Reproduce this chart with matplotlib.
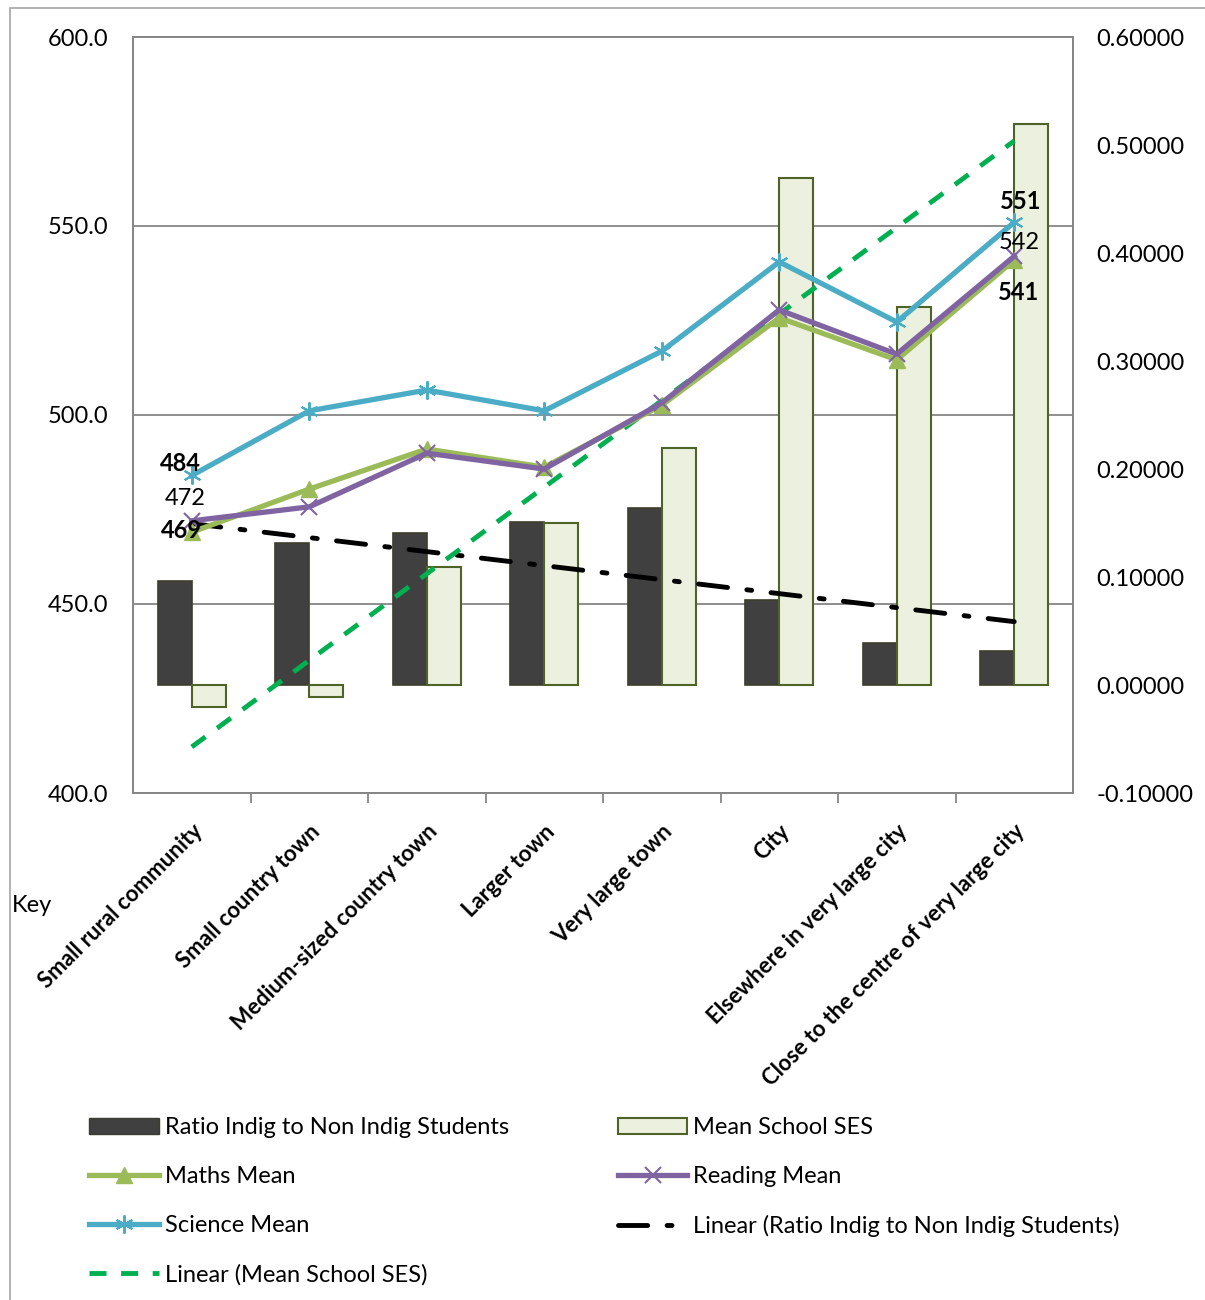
import matplotlib
matplotlib.use("Agg")
import matplotlib.pyplot as plt
import matplotlib.transforms as mtransforms
from matplotlib.patches import Patch, Rectangle
from matplotlib.lines import Line2D
import numpy as np

plt.rcParams['font.family'] = ['Lato', 'DejaVu Sans']

categories = ["Small rural community", "Small country town", "Medium-sized country town",
              "Larger town", "Very large town", "City", "Elsewhere in very large city",
              "Close to the centre of very large city"]
ratio = [0.0963, 0.1315, 0.1407, 0.1509, 0.1639, 0.0787, 0.0389, 0.0315]
ses = [-0.0204, -0.0111, 0.1093, 0.1500, 0.2194, 0.4694, 0.3500, 0.5194]
maths = [469, 480.4, 491.0, 486.2, 502.6, 525.7, 514.6, 541]
reading = [472, 475.7, 489.9, 485.7, 503.2, 527.8, 516.1, 542]
science = [484, 501.1, 506.6, 501.1, 516.9, 540.5, 524.6, 551]
left_ticks = [400, 450, 500, 550, 600]
right_ticks = [-0.1, 0.0, 0.1, 0.2, 0.3, 0.4, 0.5, 0.6]

GRID = '#868686'
DARK = '#404040'
LIGHT = '#EBF1DE'
OLIVE = '#4F6228'
C_MATHS = '#9BBB59'
C_READ = '#8064A2'
C_SCI = '#4BACC6'
C_TREND = '#00B050'
FS = 17

fig = plt.figure(figsize=(12.05, 13), dpi=100)
# outer frame
fig.add_artist(Rectangle((10 / 1205, -0.01), 1.1, 1 - 8 / 1300 + 0.01, transform=fig.transFigure,
                         fill=False, edgecolor='#a6a6a6', linewidth=1.2))

ax = fig.add_axes([133 / 1205, 1 - 793 / 1300, 940 / 1205, 756 / 1300])
axl = ax.twinx()

x = np.arange(len(categories))
w = 0.29

# gridlines at primary-axis values, drawn behind bars
blend = mtransforms.blended_transform_factory(ax.transAxes, axl.transData)
for v in left_ticks[1:-1]:
    ax.plot([0, 1], [v, v], transform=blend, color=GRID, lw=1.3, zorder=0)

ax.bar(x - w / 2, ratio, w, color=DARK, edgecolor='#3d3d2d', lw=1.2, zorder=2)
ax.bar(x + w / 2, ses, w, color=LIGHT, edgecolor=OLIVE, lw=1.5, zorder=2)

# linear trendlines
xt = x + 1
p1 = np.polyfit(xt, ratio, 1)
p2 = np.polyfit(xt, ses, 1)
ax.plot(x, np.polyval(p1, xt), color='black', lw=3.5, dashes=(6, 4, 1, 4),
        dash_capstyle='round', zorder=3)
ax.plot(x, np.polyval(p2, xt), color=C_TREND, lw=3.5, dashes=(3.5, 3), zorder=3)

ax.set_ylim(-0.1, 0.6)
ax.set_yticks(right_ticks)
ax.set_yticklabels([f"{t:.5f}" for t in right_ticks])
ax.yaxis.tick_right()
ax.tick_params(axis='y', length=0, pad=17, labelsize=FS)
ax.set_xlim(-0.5, len(categories) - 0.5)
ax.set_xticks(x)
ax.set_xticklabels(categories, rotation=45, ha='right', va='top', rotation_mode='anchor',
                   fontweight='bold', fontsize=16)
ax.tick_params(axis='x', which='major', length=0, pad=20)
ax.set_xticks(np.arange(0.5, len(categories) - 1, 1), minor=True)
ax.tick_params(axis='x', which='minor', length=7, color=GRID, width=1.3)

axl.plot(x, maths, color=C_MATHS, lw=3.8, marker='^', ms=11, zorder=5)
axl.plot(x, reading, color=C_READ, lw=3.8, marker='x', ms=11, mew=1.5, zorder=5)
axl.plot(x, science, color=C_SCI, lw=3.8, marker=(6, 2, 0), ms=13, mew=1.5, zorder=5)
axl.set_ylim(400, 600)
axl.set_yticks(left_ticks)
axl.set_yticklabels([f"{t:.1f}" for t in left_ticks])
axl.yaxis.tick_left()
axl.tick_params(axis='y', length=0, pad=18, labelsize=FS)

for a in (ax, axl):
    for s in a.spines.values():
        s.set_color(GRID)
        s.set_linewidth(1.3)

# data labels
lab = dict(fontsize=FS, ha='center', va='center', textcoords='offset pixels', zorder=10)
axl.annotate(f"{science[0]:.0f}", (x[0], science[0]), xytext=(-11, 12), fontweight='bold', **lab)
axl.annotate(f"{reading[0]:.0f}", (x[0], reading[0]), xytext=(-7, 22), **lab)
axl.annotate(f"{maths[0]:.0f}", (x[0], maths[0]), xytext=(-10, 2), fontweight='bold', **lab)
axl.annotate(f"{science[-1]:.0f}", (x[-1], science[-1]), xytext=(6, 21), fontweight='bold', **lab)
axl.annotate(f"{reading[-1]:.0f}", (x[-1], reading[-1]), xytext=(5, 14), **lab)
axl.annotate(f"{maths[-1]:.0f}", (x[-1], maths[-1]), xytext=(4, -32), fontweight='bold', **lab)

fig.text(12 / 1205, 1 - 906 / 1300, "Key", fontsize=FS, ha='left', va='center')

handles = [
    Patch(facecolor=DARK, edgecolor='#3d3d2d', label='Ratio Indig to Non Indig Students'),
    Line2D([], [], color=C_MATHS, lw=3.8, marker='^', ms=11, label='Maths Mean'),
    Line2D([], [], color=C_SCI, lw=3.8, marker=(6, 2, 0), ms=13, mew=1.5, label='Science Mean'),
    Line2D([], [], color=C_TREND, lw=3.5, dashes=(3.5, 3), label='Linear (Mean School SES)'),
    Patch(facecolor=LIGHT, edgecolor=OLIVE, lw=1.5, label='Mean School SES'),
    Line2D([], [], color=C_READ, lw=3.8, marker='x', ms=11, mew=1.5, label='Reading Mean'),
    Line2D([], [], color='black', lw=3.5, dashes=(6, 4, 1, 4), dash_capstyle='round',
           label='Linear (Ratio Indig to Non Indig Students)'),
]
fig.legend(handles=handles, loc='upper left', bbox_to_anchor=(80 / 1205, 1 - 1108 / 1300),
           ncol=2, frameon=False, fontsize=FS, handlelength=2.95, handletextpad=0.25,
           labelspacing=1.18, columnspacing=4.6, borderaxespad=0)

fig.savefig("out.png", dpi=100)
